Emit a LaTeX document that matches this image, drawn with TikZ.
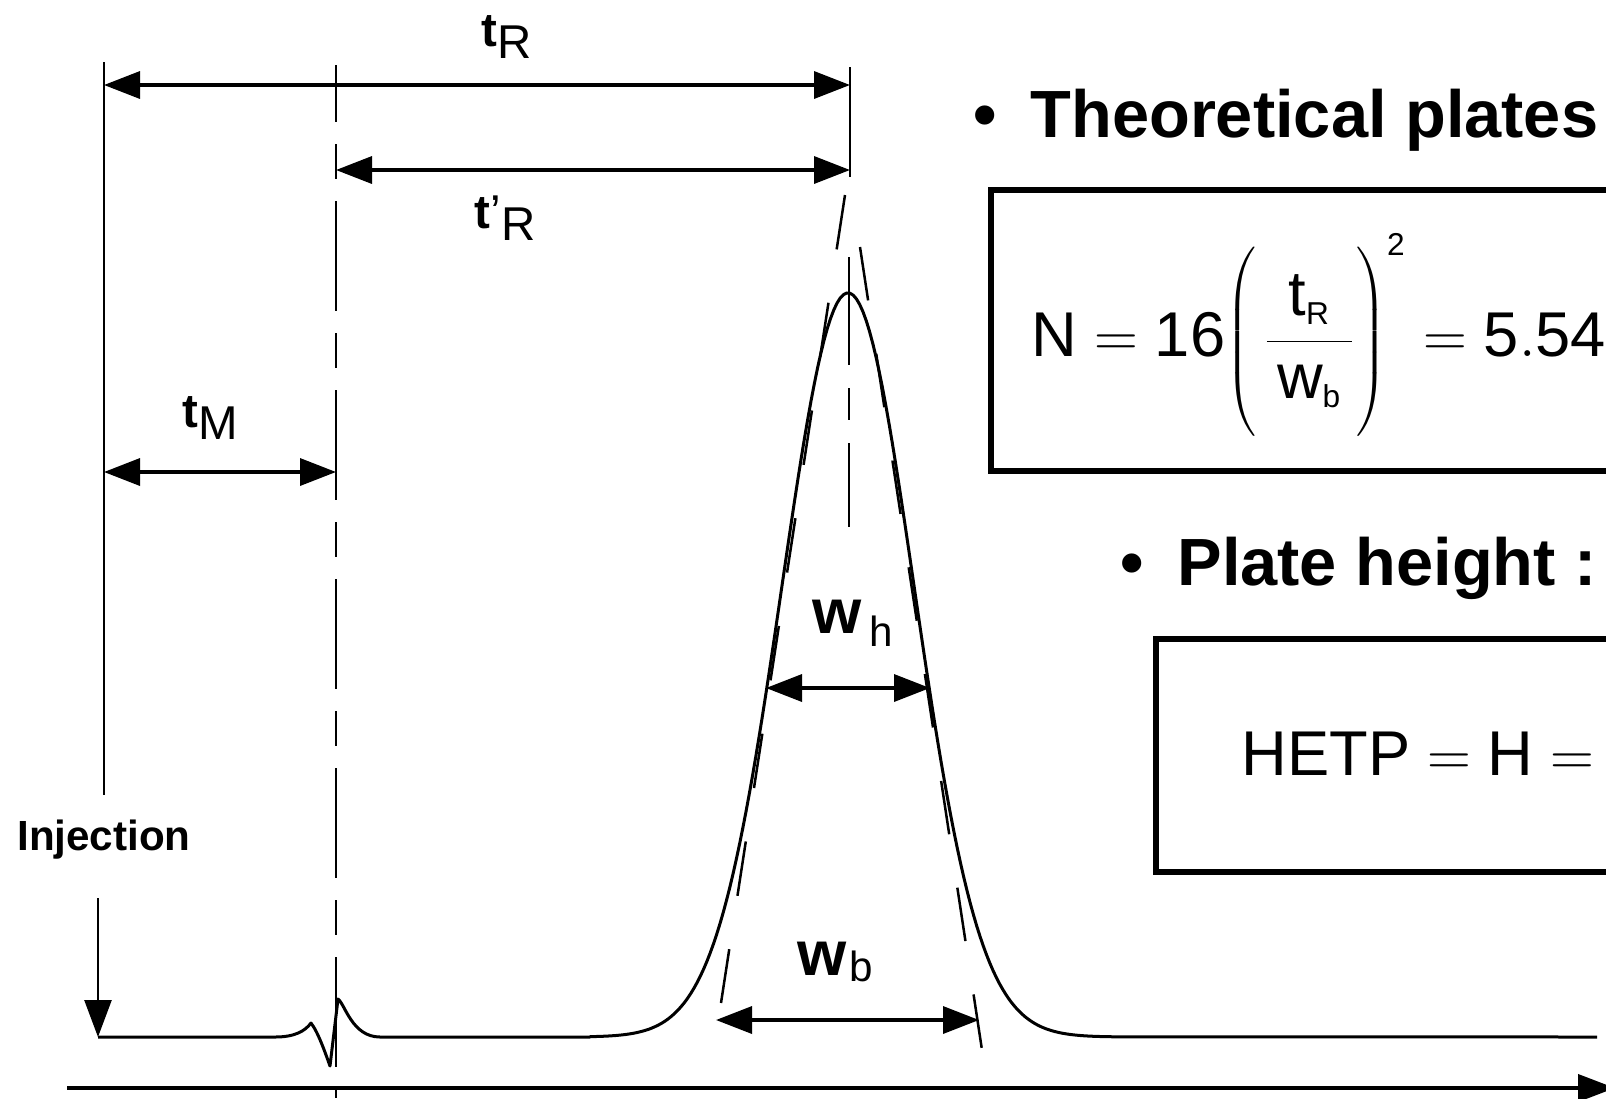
\documentclass[tikz,border=0pt]{standalone}
\usepackage{fontspec}
\setmainfont{Liberation Sans}
\usetikzlibrary{arrows.meta,positioning}

\begin{document}
\begin{tikzpicture}[x=0.1mm, y=-0.1mm, every node/.style={inner sep=0pt}]
  \tikzset{
    guide/.style={line width=0.25mm},
    dim/.style={line width=0.35mm, {Triangle[length=3.6mm,width=2.7mm]}-{Triangle[length=3.6mm,width=2.7mm]}},
    trace/.style={line width=0.3mm, line join=round},
    frame/.style={line width=0.55mm},
    timelbl/.style={font=\fontsize{13.5}{16}\selectfont},
    widthlbl/.style={font=\fontsize{18}{20}\selectfont},
    heading/.style={font=\fontsize{19}{22}\selectfont\bfseries, anchor=base west},
    formula/.style={font=\fontsize{18}{22}\selectfont}
  }
  \useasboundingbox (0,0) rectangle (1606,1098);
  \clip (0,0) rectangle (1606,1098);

  % Reference lines
  \coordinate (injtop)  at (104,62);
  \coordinate (injbot)  at (104,795);
  \coordinate (holdtop) at (336,65);
  \coordinate (holdbot) at (336,1098);
  \coordinate (peaktop) at (850,67);
  \coordinate (peakmid) at (850,177);
  \coordinate (apexa)   at (849,257);
  \coordinate (apexb)   at (849,527);
  \draw[guide] (injtop) -- (injbot);
  \draw[guide, dash pattern=on 11mm off 2.2mm on 3.5mm off 2.2mm, dash phase=5.3mm] (holdtop) -- (holdbot);
  \draw[guide] (peaktop) -- (peakmid);
  \draw[guide, dash pattern=on 10.8mm off 2.3mm on 3.2mm off 2.3mm] (apexa) -- (apexb);

  % Tangents at the inflection points
  \coordinate (tanLa) at (845,195);
  \coordinate (tanLb) at (721,1003);
  \coordinate (tanRa) at (860,247);
  \coordinate (tanRb) at (982,1050);
  \draw[guide, dash pattern=on 5.5mm off 5.4mm] (tanLa) -- (tanLb);
  \draw[guide, dash pattern=on 5.4mm off 5.4mm] (tanRa) -- (tanRb);

  % Chromatogram
  \coordinate (injstart) at (98,898);
  \coordinate (injend)   at (98,1037);
  \draw[guide, -{Triangle[length=3.7mm,width=2.7mm]}] (injstart) -- (injend);
  \draw[trace] (injend) -- (275,1037) .. controls (295,1037) and (305,1031) .. (311,1023)
    .. controls (318,1032) and (325,1052) .. (330,1066) -- (338,999)
    .. controls (345,1004) and (352,1037) .. (380,1037) -- (590,1037)
    -- plot[domain=590:1110, samples=161] (\x, {1037-744*exp(-0.5*((\x-848)/66)*((\x-848)/66))})
    -- (1597,1037);

  % Time axis
  \coordinate (axisa) at (67,1088);
  \coordinate (axisb) at (1615,1088);
  \draw[line width=0.4mm, -{Triangle[length=3.7mm,width=2.7mm]}] (axisa) -- (axisb);

  % Dimension arrows
  \coordinate (tRa)  at (104,85);   \coordinate (tRb)  at (850,85);
  \coordinate (tRpa) at (336,170);  \coordinate (tRpb) at (850,170);
  \coordinate (tMa)  at (104,472);  \coordinate (tMb)  at (336,472);
  \coordinate (wha)  at (766,688);  \coordinate (whb)  at (930,688);
  \coordinate (wba)  at (716,1020); \coordinate (wbb)  at (979,1020);
  \draw[dim] (tRa) -- (tRb);
  \draw[dim] (tRpa) -- (tRpb);
  \draw[dim] (tMa) -- (tMb);
  \draw[dim] (wha) -- (whb);
  \draw[dim] (wba) -- (wbb);

  % Labels
  \node[timelbl] (tRlbl)  at (507,37)  {\textbf{t}\raisebox{-0.25em}{R}};
  \node[timelbl] (tRplbl) at (505,218) {\textbf{t}\symbol{39}\raisebox{-0.25em}{R}};
  \node[timelbl] (tMlbl)  at (210,418) {\textbf{t}\raisebox{-0.25em}{M}};
  \node[widthlbl] (whlbl) at (853,623) {\textbf{w}\hspace{0.12em}\raisebox{-0.2em}{\fontsize{12}{14}\selectfont h}};
  \node[widthlbl] (wblbl) at (835,962) {\textbf{w}\hspace{0.05em}\raisebox{-0.1em}{\fontsize{12}{14}\selectfont b}};
  \node[font=\fontsize{12}{14}\selectfont\bfseries] (injlbl) at (104,840) {Injection};

  % Plate number
  \node[heading] (platehead) at (973,137) {•\hspace{0.5em}Theoretical plates};
  \coordinate (boxNa) at (991,190);
  \coordinate (boxNb) at (1660,471);
  \draw[frame] (boxNa) rectangle (boxNb);
  \node[formula, anchor=west] (Nform) at (1031,338)
    {$\displaystyle \mathrm{N}=\mathrm{16}\mkern-3mu\left(\mkern2mu\frac{\mkern3mu\mathrm{t}_{\scriptscriptstyle\mathrm{R}}\mkern3mu}{\mkern3mu\mathrm{w}_{\scriptscriptstyle\mathrm{b}}\mkern3mu}\vphantom{\rule[-24.5pt]{0pt}{58pt}}\right)^{\scriptscriptstyle\mathrm{2}}=\mathrm{5.54}$};

  % Plate height
  \node[heading] (heighthead) at (1120,585) {•\hspace{0.5em}Plate height :};
  \coordinate (boxHa) at (1156,639);
  \coordinate (boxHb) at (1660,872);
  \draw[frame] (boxHa) rectangle (boxHb);
  \node[formula, anchor=base west] (hetp) at (1241,775) {HETP${}={}$H${}={}$};
\end{tikzpicture}
\end{document}
